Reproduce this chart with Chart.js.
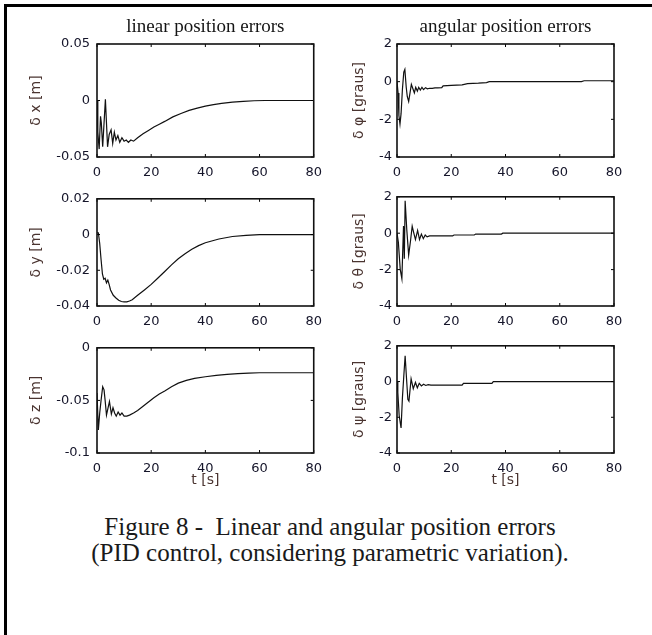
<!DOCTYPE html>
<html>
<head>
<meta charset="utf-8">
<script src="https://cdn.jsdelivr.net/npm/chart.js@4.4.1/dist/chart.umd.min.js"></script>
<style>
  html, body { margin: 0; padding: 0; background: #fff; overflow: hidden; }
  body { width: 652px; height: 635px; position: relative; }
  #frame { position: absolute; left: 4px; top: 4px; width: 700px; height: 700px; border: 3px solid #000; }
  canvas { position: absolute; }
  #caption {
    position: absolute; left: 0; top: 514px; width: 660px;
    text-align: center; white-space: pre;
    font-family: "Liberation Serif", "Times New Roman", serif;
    font-size: 25px; line-height: 26px; color: #1a1a1a;
  }
</style>
</head>
<body>
<div id="frame"></div>
<canvas id="cx"></canvas>
<canvas id="cphi"></canvas>
<canvas id="cy"></canvas>
<canvas id="ctheta"></canvas>
<canvas id="cz"></canvas>
<canvas id="cpsi"></canvas>
<div id="caption">Figure 8 -  Linear and angular position errors
(PID control, considering parametric variation).</div>

<script>
// time axis, shared by all six panels
const timeTicks = [0, 20, 40, 60, 80];
const timeTickLabels = ["0", "20", "40", "60", "80"];

// delta x [m]
const dxTime = [0, 0.3, 0.8, 1.3, 1.6, 2.1, 2.6, 3.1, 3.5, 3.9, 4.5, 5.2, 5.8, 6.4, 7.0, 7.7, 8.4, 9.2, 10.0, 10.8, 11.6, 12.5, 13.5, 15, 17, 19, 21, 23, 25, 28, 31, 34, 37, 40, 43, 46, 50, 54, 58, 62, 80];
const dxVals = [0, -0.028, -0.043, -0.014, -0.02, -0.041, -0.02, 0.001, -0.02, -0.041, -0.03, -0.026, -0.038, -0.028, -0.035, -0.031, -0.037, -0.033, -0.036, -0.035, -0.037, -0.035, -0.036, -0.033, -0.0295, -0.0265, -0.0235, -0.021, -0.0185, -0.0145, -0.0115, -0.0088, -0.0068, -0.005, -0.0036, -0.0025, -0.0014, -0.0007, -0.0002, 0, 0];
const dxTicks = [-0.05, 0, 0.05];
const dxTickLabels = ["-0.05", "0", "0.05"];

// delta y [m]
const dyTime = [0, 0.5, 1.0, 1.5, 2.0, 2.5, 3.0, 3.5, 4.0, 4.5, 5.0, 6, 7, 8, 9, 10, 11, 12, 13, 15, 17.5, 20, 22.5, 25, 27.5, 30, 32.5, 35, 37.5, 40, 45, 50, 55, 60, 80];
const dyVals = [0.001, 0.001, -0.005, -0.014, -0.022, -0.025, -0.0245, -0.027, -0.0255, -0.028, -0.031, -0.034, -0.0355, -0.0368, -0.0375, -0.0377, -0.0377, -0.0372, -0.0365, -0.034, -0.031, -0.0279, -0.0243, -0.0207, -0.017, -0.0136, -0.0108, -0.0082, -0.0062, -0.0046, -0.0025, -0.0011, -0.0005, 0, 0];
const dyTicks = [-0.04, -0.02, 0, 0.02];
const dyTickLabels = ["-0.04", "-0.02", "0", "0.02"];

// delta z [m]
const dzTime = [0, 0.5, 1.0, 1.5, 2.1, 2.6, 3.0, 3.5, 4.0, 4.6, 5.3, 5.9, 6.5, 7.1, 7.8, 8.5, 9.2, 10, 11, 12, 13.5, 15, 17, 19, 21, 23, 25, 27.5, 30, 33, 36, 40, 44, 48, 52, 56, 60, 80];
const dzVals = [-0.043, -0.078, -0.062, -0.05, -0.037, -0.04, -0.05, -0.064, -0.058, -0.051, -0.063, -0.057, -0.062, -0.065, -0.061, -0.064, -0.062, -0.065, -0.065, -0.064, -0.062, -0.0595, -0.0555, -0.0515, -0.0475, -0.044, -0.041, -0.037, -0.0336, -0.031, -0.029, -0.0275, -0.0262, -0.0252, -0.0245, -0.024, -0.0237, -0.0237];
const dzTicks = [-0.1, -0.05, 0];
const dzTickLabels = ["-0.1", "-0.05", "0"];

// delta phi [graus]
const phiTime = [0, 0.4, 0.7, 1.1, 1.5, 2.0, 2.5, 2.9, 3.4, 3.8, 4.3, 4.8, 5.3, 5.8, 6.4, 6.9, 7.5, 8.0, 8.6, 9.2, 9.8, 10.5, 11.2, 12, 13, 14, 15, 16.5, 17, 20, 24, 26, 30, 33, 34, 68, 69, 80];
const phiVals = [0, -0.6, -1.8, -2.25, -1.7, -0.4, 0.5, 0.65, -0.3, -0.8, -1.05, -0.6, -0.15, -0.35, -0.6, -0.3, -0.5, -0.3, -0.45, -0.3, -0.42, -0.32, -0.38, -0.35, -0.36, -0.33, -0.33, -0.32, -0.22, -0.2, -0.17, -0.1, -0.08, -0.05, 0, 0, 0.05, 0.05];

// delta theta [graus]
const thetaTime = [0, 0.5, 1.2, 1.8, 2.4, 2.7, 3.0, 3.6, 4.3, 5.0, 5.6, 6.2, 6.8, 7.6, 8.3, 9.0, 9.7, 10.4, 11.1, 12, 20.5, 21, 28.5, 29, 38.5, 39, 80];
const thetaVals = [0, -0.5, -2.0, -2.5, 0.4, -1.4, 1.78, 0.2, -1.2, -0.4, 0.38, 0.0, -0.35, 0.15, -0.35, -0.05, -0.3, -0.1, -0.2, -0.15, -0.15, -0.1, -0.1, -0.05, -0.05, 0, 0];

// delta psi [graus]
const psiTime = [0, 0.3, 0.8, 1.5, 2.0, 2.5, 3.0, 3.5, 4.0, 4.4, 5.2, 6.0, 6.8, 7.5, 8.2, 9.0, 9.8, 10.6, 11.5, 12.5, 24, 24.5, 35, 35.5, 80];
const psiVals = [0, -0.6, -1.9, -2.6, -0.9, 0.3, 1.44, 0.2, -1.0, -1.1, 0.15, -0.4, -0.05, -0.35, -0.1, -0.25, -0.15, -0.22, -0.17, -0.2, -0.2, -0.1, -0.1, 0, 0];

const angTicks = [-4, -2, 0, 2];
const angTickLabels = ["-4", "-2", "0", "2"];

const SANS = "DejaVu Sans";
const TICK_COLOR = "#15152a";
const LABEL_COLOR = "#4a3430";

// MATLAB-style box with inward tick marks on all four sides
const boxTicks = {
  id: "boxTicks",
  afterDatasetsDraw(chart) {
    const { ctx, chartArea: a, scales: { x, y } } = chart;
    ctx.save();
    ctx.strokeStyle = "#000";
    ctx.lineWidth = 1;
    ctx.beginPath();
    x.ticks.forEach((t) => {
      const px = x.getPixelForValue(t.value);
      ctx.moveTo(px, a.bottom); ctx.lineTo(px, a.bottom - 3);
      ctx.moveTo(px, a.top); ctx.lineTo(px, a.top + 3);
    });
    y.ticks.forEach((t) => {
      const py = y.getPixelForValue(t.value);
      ctx.moveTo(a.left, py); ctx.lineTo(a.left + 3, py);
      ctx.moveTo(a.right, py); ctx.lineTo(a.right - 3, py);
    });
    ctx.stroke();
    ctx.lineWidth = 1.6;
    ctx.strokeStyle = "#111";
    ctx.strokeRect(a.left, a.top, a.right - a.left, a.bottom - a.top);
    ctx.restore();
  },
};

function makePanel(id, cfg) {
  const canvas = document.getElementById(id);
  canvas.width = cfg.width;
  canvas.height = cfg.height;
  canvas.style.left = cfg.left + "px";
  canvas.style.top = cfg.top + "px";

  const points = cfg.time.map((t, i) => ({ x: t, y: cfg.values[i] }));

  return new Chart(canvas, {
    type: "line",
    data: {
      datasets: [{
        data: points,
        borderColor: "#111",
        borderWidth: 1.2,
        pointRadius: 0,
        tension: 0,
        fill: false,
      }],
    },
    options: {
      responsive: false,
      animation: false,
      layout: { padding: { top: cfg.padTop, right: cfg.padRight, left: 0, bottom: 0 } },
      plugins: {
        legend: { display: false },
        tooltip: { enabled: false },
        title: {
          display: !!cfg.title,
          text: cfg.title || "",
          fullSize: false,
          color: "#151515",
          font: { family: "Liberation Serif", size: 19, weight: "normal" },
          padding: { top: 0, bottom: 5.2 },
        },
      },
      scales: {
        x: {
          type: "linear",
          min: 0,
          max: 80,
          afterBuildTicks: (axis) => { axis.ticks = timeTicks.map((v) => ({ value: v })); },
          afterFit: (axis) => { axis.height = cfg.xHeight; },
          grid: { display: false, drawTicks: false },
          border: { display: false },
          ticks: {
            color: TICK_COLOR,
            font: { family: SANS, size: 13 },
            padding: 8,
            maxRotation: 0,
            callback: (v, i) => timeTickLabels[i],
          },
          title: {
            display: !!cfg.xTitle,
            text: cfg.xTitle || "",
            color: LABEL_COLOR,
            font: { family: SANS, size: 14 },
            padding: { top: 0, bottom: 4.5 },
          },
        },
        y: {
          type: "linear",
          min: cfg.yTicks[0],
          max: cfg.yTicks[cfg.yTicks.length - 1],
          afterBuildTicks: (axis) => { axis.ticks = cfg.yTicks.map((v) => ({ value: v })); },
          afterFit: (axis) => { axis.width = cfg.yWidth; },
          grid: { display: false, drawTicks: false },
          border: { display: false },
          ticks: {
            color: TICK_COLOR,
            font: { family: SANS, size: 13 },
            padding: cfg.tickPad,
            callback: (v, i) => cfg.yTickLabels[i],
          },
          title: {
            display: true,
            text: cfg.yTitle,
            color: LABEL_COLOR,
            font: { family: SANS, size: 14 },
            padding: { top: cfg.yTitlePad, bottom: 0 },
          },
        },
      },
    },
    plugins: [boxTicks],
  });
}

// column and row geometry
const col1 = { left: 0, width: 330, yWidth: 97, padRight: 15, yTitlePad: 27.6, tickPad: 7 };
const col2 = { left: 326, width: 314, yWidth: 71, padRight: 26, yTitlePad: 24.6, tickPad: 5 };
const row1 = { top: 0, height: 182, padTop: 16, xHeight: 25 };
const row2 = { top: 184, height: 147, padTop: 10, xHeight: 25 };
const row3 = { top: 333, height: 160, padTop: 10, xHeight: 40, xTitle: "t [s]" };

makePanel("cx", { ...col1, ...row1, title: "linear position errors", time: dxTime, values: dxVals,
  yTicks: dxTicks, yTickLabels: dxTickLabels, yTitle: "\u03b4 x [m]" });
makePanel("cphi", { ...col2, ...row1, title: "angular position errors", time: phiTime, values: phiVals,
  yTicks: angTicks, yTickLabels: angTickLabels, yTitle: "\u03b4 \u03c6 [graus]" });
makePanel("cy", { ...col1, ...row2, time: dyTime, values: dyVals,
  yTicks: dyTicks, yTickLabels: dyTickLabels, yTitle: "\u03b4 y [m]" });
makePanel("ctheta", { ...col2, ...row2, time: thetaTime, values: thetaVals,
  yTicks: angTicks, yTickLabels: angTickLabels, yTitle: "\u03b4 \u03b8 [graus]" });
makePanel("cz", { ...col1, ...row3, time: dzTime, values: dzVals,
  yTicks: dzTicks, yTickLabels: dzTickLabels, yTitle: "\u03b4 z [m]" });
makePanel("cpsi", { ...col2, ...row3, time: psiTime, values: psiVals,
  yTicks: angTicks, yTickLabels: angTickLabels, yTitle: "\u03b4 \u03c8 [graus]" });
</script>
</body>
</html>
